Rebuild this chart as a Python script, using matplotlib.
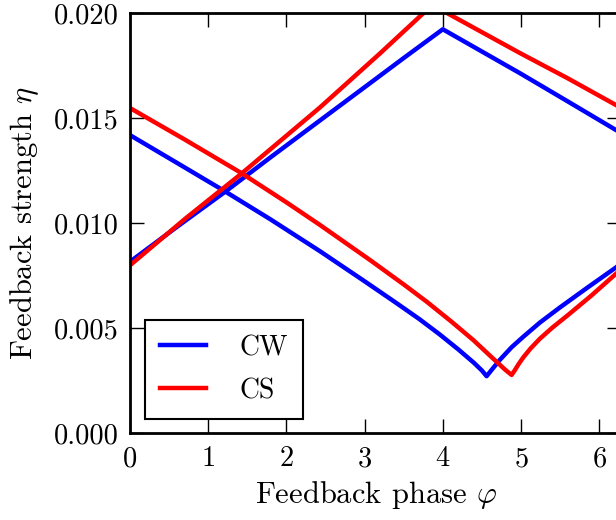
import matplotlib
matplotlib.use("Agg")
import matplotlib.pyplot as plt

plt.rcParams['font.family'] = 'serif'
plt.rcParams['font.serif'] = ['cmr10']
plt.rcParams['mathtext.fontset'] = 'cm'
plt.rcParams['axes.formatter.use_mathtext'] = True

# CW branch starting on the rising side at phase 0
cw_phi_1 = [0, 0.6, 1.22, 1.8, 2.43, 3.0, 3.5, 4.0, 4.5, 4.99, 5.6, 6.215, 6.2832]
cw_eta_1 = [0.00817, 0.00983, 0.01151, 0.01315, 0.0149, 0.01648, 0.01787, 0.01924,
            0.01818, 0.01714, 0.0158, 0.01444, 0.0143]
# CW branch starting on the falling side at phase 0
cw_phi_2 = [0, 0.6, 1.22, 1.8, 2.43, 3.0, 3.4, 3.7, 3.96, 4.2, 4.4, 4.5, 4.56,
            4.62, 4.73, 4.88, 5.03, 5.24, 5.5, 5.85, 6.215, 6.2832]
cw_eta_2 = [0.0142, 0.01288, 0.01151, 0.01018, 0.00867, 0.00724, 0.00622, 0.00544,
            0.00471, 0.00399, 0.00335, 0.00299, 0.00272, 0.0030, 0.0035, 0.0041,
            0.0046, 0.00527, 0.0060, 0.00694, 0.0079, 0.0081]

# CS branch starting on the rising side at phase 0
cs_phi_1 = [0, 0.7, 1.43, 2.43, 3.2, 3.75, 3.87, 4.06, 4.99, 5.6, 6.215, 6.2832]
cs_eta_1 = [0.0080, 0.0102, 0.01238, 0.01552, 0.0181, 0.0200, 0.0204, 0.0200,
            0.0181, 0.0169, 0.01563, 0.01549]
# CS branch starting on the falling side at phase 0
cs_phi_2 = [0, 0.7, 1.43, 2.0, 2.43, 3.07, 3.5, 3.8, 4.1, 4.39, 4.64, 4.8, 4.88,
            4.92, 4.97, 5.03, 5.12, 5.24, 5.4, 5.6, 5.9, 6.215, 6.2832]
cs_eta_2 = [0.01549, 0.01399, 0.01238, 0.011, 0.00992, 0.00825, 0.00709, 0.00625,
            0.00535, 0.00444, 0.00357, 0.00302, 0.00278, 0.0030, 0.0033, 0.00362,
            0.00403, 0.0045, 0.00503, 0.00563, 0.00656, 0.0076, 0.0078]

fig = plt.figure(figsize=(6.16, 5.2), dpi=100)
ax = fig.add_axes([0.211, 0.1667, 0.7977, 0.8077])

ax.plot(cw_phi_1, cw_eta_1, color='#0000ff', lw=3.2, label='CW')
ax.plot(cw_phi_2, cw_eta_2, color='#0000ff', lw=3.2)
ax.plot(cs_phi_1, cs_eta_1, color='#ff0000', lw=3.2, label='CS')
ax.plot(cs_phi_2, cs_eta_2, color='#ff0000', lw=3.2)

ax.set_xlim(0, 6.2832)
ax.set_ylim(0, 0.02)
ax.set_xticks([0, 1, 2, 3, 4, 5, 6])
ax.set_yticks([0, 0.005, 0.010, 0.015, 0.020])
ax.set_yticklabels(['0.000', '0.005', '0.010', '0.015', '0.020'])

ax.tick_params(direction='in', length=10, width=1, top=True, right=True, labelsize=20.5)
ax.tick_params(axis='x', pad=9)
ax.tick_params(axis='y', pad=8)
for s in ax.spines.values():
    s.set_linewidth(2)

ax.set_xlabel(r'Feedback phase $\varphi$', fontsize=22, labelpad=5)
ax.set_ylabel(r'Feedback strength $\eta$', fontsize=22, labelpad=9)

leg = ax.legend(loc='lower left', bbox_to_anchor=(0.03, 0.033), borderaxespad=0,
                fontsize=20, handlelength=1.65, handletextpad=1.2, labelspacing=0.6,
                borderpad=0.55, fancybox=False, framealpha=1)
leg.get_frame().set_edgecolor('black')
leg.get_frame().set_linewidth(1.5)

fig.savefig('out.png', dpi=100)
